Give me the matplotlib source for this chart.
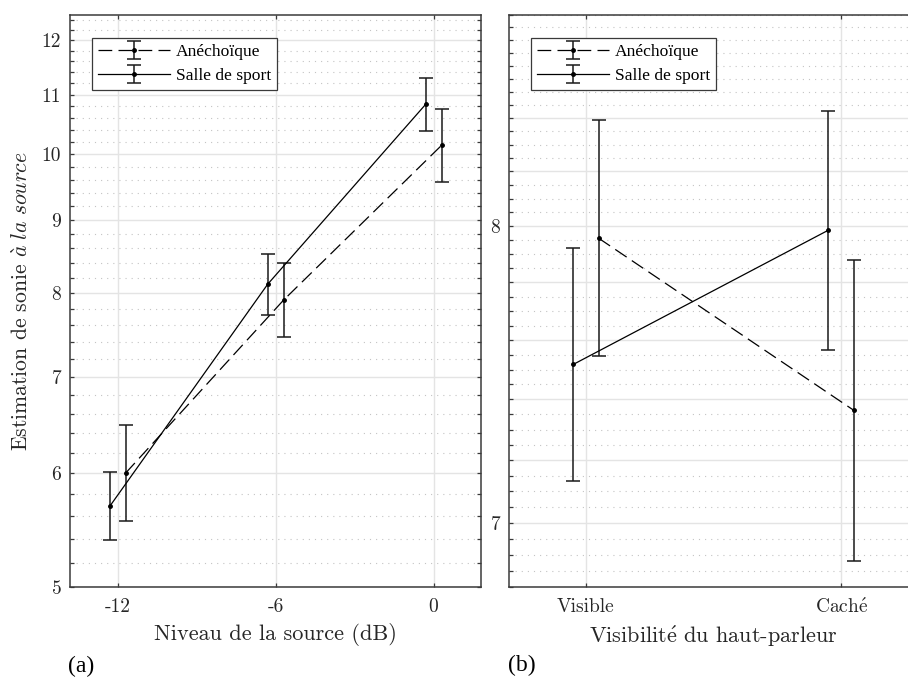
import numpy as np
import matplotlib
matplotlib.use("Agg")
import matplotlib.pyplot as plt
from matplotlib.ticker import FixedLocator, FixedFormatter, NullFormatter
from matplotlib.font_manager import FontProperties

plt.rcParams['font.family'] = ['cmr10', 'DejaVu Serif']
plt.rcParams['mathtext.fontset'] = 'cm'
plt.rcParams['axes.unicode_minus'] = False

# ---------------- data ----------------
# Panel (a)
levels = [-12, -6, 0]
level_labels = ['-12', '-6', '0']
anech_a = [6.00, 7.915, 10.14]
anech_a_lo = [5.56, 7.46, 9.57]
anech_a_hi = [6.48, 8.40, 10.745]
salle_a = [5.69, 8.12, 10.83]
salle_a_lo = [5.387, 7.73, 10.38]
salle_a_hi = [6.01, 8.52, 11.29]

# Panel (b)
vis_cats = ['Visible', 'Cach$\\mathrm{\\acute{e}}$']
anech_b = [7.957, 7.363]
anech_b_lo = [7.547, 6.880]
anech_b_hi = [8.392, 7.881]
salle_b = [7.517, 7.986]
salle_b_lo = [7.134, 7.567]
salle_b_hi = [7.921, 8.425]

series_names = ['Anéchoïque', 'Salle de sport']

# ---------------- style ----------------
spine_col = '#3a3a3a'
txt_col = '#262626'
dash = (0, (11, 5))
serif_path = '/usr/share/fonts/truetype/liberation/LiberationSerif-Regular.ttf'
times = FontProperties(fname=serif_path, size=12.6)
times_big = FontProperties(fname=serif_path, size=17)

fig = plt.figure(figsize=(9.08, 6.77), dpi=100)
axA = fig.add_axes([70.3/908, 1-587/677, (481-70.3)/908, (587-14.7)/677])
axB = fig.add_axes([509.3/908, 1-587/677, 408.5/908, (587-14.7)/677])


def draw(ax, xs, off, an, an_lo, an_hi, sa, sa_lo, sa_hi):
    xs = np.asarray(xs, float)
    an = np.asarray(an); sa = np.asarray(sa)
    ea = [an - np.asarray(an_lo), np.asarray(an_hi) - an]
    es = [sa - np.asarray(sa_lo), np.asarray(sa_hi) - sa]
    h1 = ax.errorbar(xs + off, an, yerr=ea, color='k', ls=dash, lw=0.9,
                     marker='.', ms=5, capsize=4.8, elinewidth=1.1, capthick=1.1,
                     ecolor='#1a1a1a', label=series_names[0], zorder=3)
    h2 = ax.errorbar(xs - off, sa, yerr=es, color='k', ls='-', lw=0.9,
                     marker='.', ms=5, capsize=4.8, elinewidth=1.1, capthick=1.1,
                     ecolor='#1a1a1a', label=series_names[1], zorder=3)
    leg = ax.legend(handles=[h1, h2], loc='upper left',
                    bbox_to_anchor=(0.053, 0.96), borderaxespad=0,
                    prop=times,
                    handlelength=4.1, handletextpad=0.35, labelspacing=0.45,
                    borderpad=0.35, fancybox=False, framealpha=1,
                    edgecolor=spine_col)
    leg.get_frame().set_linewidth(0.9)


def style(ax):
    ax.set_yscale('log')
    for s in ax.spines.values():
        s.set_color(spine_col)
        s.set_linewidth(1.1)
    ax.tick_params(which='both', direction='in', top=True, right=True,
                   length=3, width=0.9, color=spine_col, labelsize=14,
                   labelcolor=txt_col, pad=8)
    ax.tick_params(axis='y', which='both', pad=6.5)
    ax.yaxis.set_minor_formatter(NullFormatter())
    ax.grid(which='major', color='#e4e4e4', lw=1.0, ls='-', zorder=0)
    ax.grid(which='minor', axis='y', color='#c4c4c4', lw=0.8, ls=(0, (1, 4.5)), zorder=0)
    ax.set_axisbelow(True)


# ----- panel (a) -----
draw(axA, levels, 0.3, anech_a, anech_a_lo, anech_a_hi, salle_a, salle_a_lo, salle_a_hi)
style(axA)
axA.set_xlim(-13.8, 1.8)
axA.set_ylim(5, 12.5)
ymajA = [5, 6, 7, 8, 9, 10, 11, 12]
yminA = [v for v in np.round(np.arange(5, 12.5, 0.2), 2) if abs(v - round(v)) > 1e-6]
axA.yaxis.set_major_locator(FixedLocator(ymajA))
axA.yaxis.set_major_formatter(FixedFormatter([str(v) for v in ymajA]))
axA.yaxis.set_minor_locator(FixedLocator(yminA))
axA.set_xticks(levels)
axA.set_xticklabels(level_labels)
axA.set_xlabel('Niveau de la source (dB)', fontsize=16, color=txt_col, labelpad=5)
axA.set_ylabel('Estimation de sonie $\\mathit{\\grave{a}\\ la\\ source}$',
               fontsize=15.6, color=txt_col, labelpad=7)

# ----- panel (b) -----
xb = [1, 2]
draw(axB, xb, 0.05, anech_b, anech_b_lo, anech_b_hi, salle_b, salle_b_lo, salle_b_hi)
style(axB)
axB.set_xlim(0.7, 2.3)
axB.set_ylim(6.8, 8.8)
ymajB = [7.0, 7.2, 7.4, 7.6, 7.8, 8.0, 8.2, 8.4]
ylabB = ['7', '', '', '', '', '8', '', '']
allB = np.round(np.arange(6.8, 8.8001, 0.05), 2)
yminB = [v for v in allB if all(abs(v - m) > 1e-6 for m in ymajB)]
axB.yaxis.set_major_locator(FixedLocator(ymajB))
axB.yaxis.set_major_formatter(FixedFormatter(ylabB))
axB.yaxis.set_minor_locator(FixedLocator(yminB))
axB.set_xticks(xb)
axB.set_xticklabels(vis_cats)
axB.set_xlabel('Visibilit$\\mathrm{\\acute{e}}$ du haut-parleur', fontsize=16,
               color=txt_col, labelpad=5)

fig.text(68/908, 1-666/677, '(a)', fontproperties=times_big, va='center')
fig.text(508/908, 1-665/677, '(b)', fontproperties=times_big, va='center')

fig.savefig('out.png', dpi=100)
